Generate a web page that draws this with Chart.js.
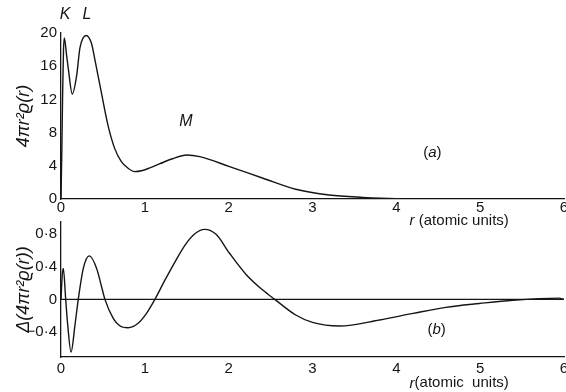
<!DOCTYPE html>
<html>
<head>
<meta charset="utf-8">
<script src="https://cdn.jsdelivr.net/npm/chart.js@4.4.1/dist/chart.umd.min.js"></script>
<style>
  html, body { margin: 0; padding: 0; background: #fff; }
  #wrap { position: relative; width: 566px; height: 392px; overflow: hidden; }
  .panel { position: absolute; left: 0; width: 566px; }
  #panelA { top: 0; height: 235px; }
  #panelB { top: 215px; height: 177px; }
</style>
</head>
<body>
<div id="wrap">
  <div class="panel" id="panelA"><canvas id="densityChart"></canvas></div>
  <div class="panel" id="panelB"><canvas id="deltaChart"></canvas></div>
</div>
<script>
/*************************************************
 * DATA
 *************************************************/

// (a) radial density 4πr²ϱ(r)
const rA = [0, 0.01, 0.02, 0.03, 0.04, 0.067, 0.087, 0.135, 0.187, 0.226, 0.30, 0.365, 0.40, 0.48, 0.56, 0.64, 0.72, 0.80, 0.88, 0.96, 1.06, 1.18, 1.33, 1.5, 1.655, 2.01, 2.41, 2.8, 3.2, 3.6, 4.0, 4.5, 5.0, 6.0];
const densityA = [0, 6, 13, 18, 19.4, 17.3, 15.7, 12.65, 14.9, 18.2, 19.7, 18.7, 17.0, 12.9, 8.9, 6.1, 4.5, 3.7, 3.3, 3.4, 3.75, 4.25, 4.85, 5.3, 5.1, 3.9, 2.5, 1.17, 0.48, 0.2, 0.05, 0.02, 0, 0];

// (b) difference Δ(4πr²ϱ(r))
const rB = [0, 0.015, 0.028, 0.056, 0.08, 0.12, 0.167, 0.206, 0.266, 0.337, 0.425, 0.484, 0.524, 0.623, 0.70, 0.80, 0.92, 1.02, 1.12, 1.238, 1.357, 1.48, 1.6, 1.714, 1.85, 2.01, 2.21, 2.41, 2.55, 2.80, 3.0, 3.32, 3.80, 4.2, 4.59, 4.99, 5.39, 5.94, 6.0];
const deltaB = [0, 0.3, 0.376, 0, -0.31, -0.64, -0.31, 0, 0.376, 0.528, 0.376, 0.153, 0, -0.23, -0.32, -0.344, -0.29, -0.17, 0, 0.23, 0.45, 0.66, 0.8, 0.85, 0.79, 0.56, 0.3, 0.11, 0, -0.19, -0.28, -0.324, -0.25, -0.17, -0.097, -0.05, -0.01, 0.015, 0];

// zero reference line of panel (b)
const rZero = [0, 6];
const zeroLine = [0, 0];

// tick labels
const xTicks = [0, 1, 2, 3, 4, 5, 6];
const yTicksA = [0, 4, 8, 12, 16, 20];
const yTicksB = [-0.4, 0, 0.4, 0.8];


/*************************************************
 * SHARED STYLE
 *************************************************/
const FONT = "'Liberation Sans', 'DejaVu Sans', Arial, sans-serif";
const INK = "#151515";

function toPoints(xs, ys) {
  return xs.map((x, i) => ({ x: x, y: ys[i] }));
}

// text labels placed in data coordinates
const notesPlugin = {
  id: "notes",
  afterDraw(chart, args, opts) {
    const { ctx } = chart;
    const xs = chart.scales.x;
    const ys = chart.scales.y;
    ctx.save();
    ctx.fillStyle = INK;
    ctx.textBaseline = "middle";
    (opts.items || []).forEach(n => {
      const px = xs.getPixelForValue(n.r);
      const py = ys.getPixelForValue(n.v);
      let total = 0;
      n.parts.forEach(p => { ctx.font = p[0]; total += ctx.measureText(p[1]).width; });
      let cx = px - total / 2;
      ctx.textAlign = "left";
      n.parts.forEach(p => {
        ctx.font = p[0];
        ctx.fillText(p[1], cx, py);
        cx += ctx.measureText(p[1]).width;
      });
    });
    ctx.restore();
  }
};

const ital = sz => `italic ${sz}px ${FONT}`;
const norm = sz => `${sz}px ${FONT}`;

function fmtDot(v) {
  if (v === 0) return "0";
  return String(v).replace("-", "\u2212").replace(".", "\u00b7");
}

function baseOptions(cfg) {
  return {
    responsive: true,
    maintainAspectRatio: false,
    animation: false,
    layout: { padding: cfg.padding },
    plugins: {
      legend: { display: false },
      tooltip: { enabled: false },
      notes: { items: cfg.notes }
    },
    elements: { point: { radius: 0 } },
    scales: {
      x: {
        type: "linear",
        min: 0,
        max: 6,
        afterBuildTicks: s => { s.ticks = xTicks.map(v => ({ value: v })); },
        afterFit: s => { s.height = cfg.xHeight; s.paddingLeft = 0; s.paddingRight = 0; },
        grid: { display: false, drawTicks: false },
        border: { display: true, color: INK, width: 1.3 },
        ticks: { color: INK, font: { family: FONT, size: 15 }, padding: cfg.xPad, maxRotation: 0 }
      },
      y: {
        min: cfg.yMin,
        max: cfg.yMax,
        afterBuildTicks: s => { s.ticks = cfg.yTicks.map(v => ({ value: v })); },
        afterFit: s => { s.width = 61; s.paddingTop = 0; s.paddingBottom = 0; },
        grid: { display: false, drawTicks: false },
        border: { display: true, color: INK, width: 1.3 },
        ticks: { color: INK, font: { family: FONT, size: 15 }, padding: 4, callback: cfg.yFmt },
        title: {
          display: true,
          text: cfg.yTitle,
          color: INK,
          font: { family: FONT, size: 18, style: "italic" },
          padding: { top: 13, bottom: 0 }
        }
      }
    }
  };
}


/*************************************************
 * PANEL (a)
 *************************************************/
new Chart(document.getElementById("densityChart"), {
  type: "line",
  data: {
    datasets: [{
      data: toPoints(rA, densityA),
      borderColor: INK,
      borderWidth: 1.4,
      cubicInterpolationMode: "monotone",
      fill: false
    }]
  },
  options: baseOptions({
    padding: { top: 33, right: 2, left: 0, bottom: 0 },
    xHeight: 36,
    xPad: 0,
    yMin: 0,
    yMax: 20,
    yTicks: yTicksA,
    yFmt: v => String(v),
    yTitle: "4\u03c0r\u00b2\u03f1(r)",
    notes: [
      { r: 0.05, v: 22.2, parts: [[ital(16), "K"]] },
      { r: 0.31, v: 22.2, parts: [[ital(16), "L"]] },
      { r: 1.49, v: 9.3, parts: [[ital(16), "M"]] },
      { r: 4.43, v: 5.6, parts: [[norm(15), "("], [ital(15), "a"], [norm(15), ")"]] },
      { r: 4.75, v: -2.65, parts: [[ital(15), "r"], [norm(15), " (atomic units)"]] }
    ]
  }),
  plugins: [notesPlugin]
});


/*************************************************
 * PANEL (b)
 *************************************************/
new Chart(document.getElementById("deltaChart"), {
  type: "line",
  data: {
    datasets: [
      {
        data: toPoints(rB, deltaB),
        borderColor: INK,
        borderWidth: 1.4,
        cubicInterpolationMode: "monotone",
        fill: false
      },
      {
        data: toPoints(rZero, zeroLine),
        borderColor: INK,
        borderWidth: 1.2,
        fill: false
      }
    ]
  },
  options: baseOptions({
    padding: { top: 7, right: 2, left: 0, bottom: 0 },
    xHeight: 35,
    xPad: 3,
    yMin: -0.7,
    yMax: 0.94,
    yTicks: yTicksB,
    yFmt: v => fmtDot(v),
    yTitle: "\u0394(4\u03c0r\u00b2\u03f1(r))",
    notes: [
      { r: 4.48, v: -0.37, parts: [[norm(15), "("], [ital(15), "b"], [norm(15), ")"]] },
      { r: 4.75, v: -1.02, parts: [[ital(15), "r"], [norm(15), "(atomic  units)"]] }
    ]
  }),
  plugins: [notesPlugin]
});
</script>
</body>
</html>
